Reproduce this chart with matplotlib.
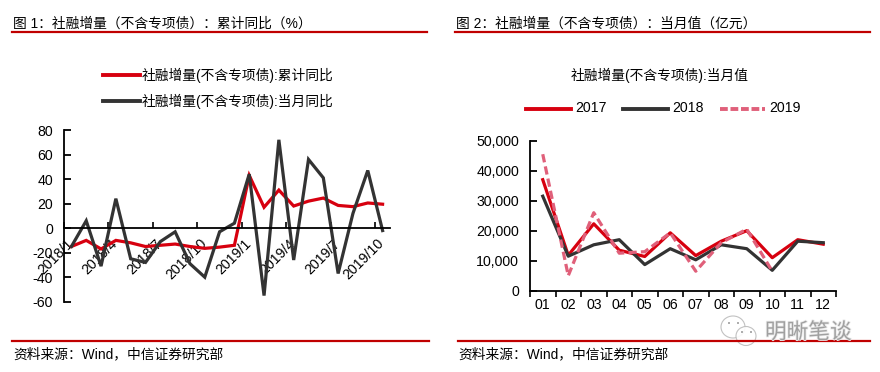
import numpy as np
import matplotlib
matplotlib.use('Agg')
import matplotlib.pyplot as plt
import matplotlib.patheffects as pe
from matplotlib.lines import Line2D
from matplotlib.patches import Ellipse
from matplotlib.transforms import ScaledTranslation

plt.rcParams['font.family'] = ['Liberation Sans', 'Noto Sans CJK SC']
plt.rcParams['axes.unicode_minus'] = False

RED = '#D7000F'
DARK = '#333333'
PINK = '#E0607A'
RULE = '#C00000'

W, H = 880, 372

months = ['2018/1', '2018/2', '2018/3', '2018/4', '2018/5', '2018/6', '2018/7', '2018/8',
          '2018/9', '2018/10', '2018/11', '2018/12', '2019/1', '2019/2', '2019/3', '2019/4',
          '2019/5', '2019/6', '2019/7', '2019/8', '2019/9', '2019/10']
cum_yoy = [-15, -10, -17, -10, -12, -15, -14, -13, -15, -16.5, -15.5, -14,
           43, 17, 31, 18, 22, 24.5, 18.5, 17.5, 20.5, 19.5]
month_yoy = [-15, 6, -31, 24, -25, -28, -11, -3, -29, -40, -3, 4,
             44, -55, 72, -26, 56, 41, -37, 12, 47, -2]

cal = ['01', '02', '03', '04', '05', '06', '07', '08', '09', '10', '11', '12']
y2017 = [37000, 11800, 22300, 13500, 11400, 19300, 11700, 16500, 20000, 11000, 17000, 15500]
y2018 = [31500, 11500, 15300, 17000, 8700, 14000, 10300, 15300, 14000, 6800, 16500, 16000]
y2019 = [45500, 5000, 26000, 12500, 13000, 19300, 6500, 16000, 20500, 6500]


def px_axes(fig, x0, x1, ytop, ybot):
    return fig.add_axes([x0 / W, 1 - ybot / H, (x1 - x0) / W, (ybot - ytop) / H])


def hline(fig, x0, x1, y, color=RULE, lw=1.6, **kw):
    fig.add_artist(Line2D([x0 / W, x1 / W], [1 - y / H, 1 - y / H], color=color, lw=lw, **kw))


def ftext(fig, x, y, s, **kw):
    kw.setdefault('va', 'center')
    kw.setdefault('color', 'black')
    return fig.text(x / W, 1 - y / H, s, **kw)


def style(ax):
    for side in ['top', 'right']:
        ax.spines[side].set_visible(False)
    for side in ['left', 'bottom']:
        ax.spines[side].set_linewidth(1.3)
    ax.patch.set_alpha(0)


def bubble(fig, x, y, w, h):
    fig.add_artist(Ellipse((x / W, 1 - y / H), w / W, h / H, fc='white', ec='#BBBBBB', lw=0.8,
                           alpha=0.9, transform=fig.transFigure))


fig = plt.figure(figsize=(W / 100, H / 100), dpi=100, facecolor='white')

# 图 1
ax1 = px_axes(fig, 64, 390, 130, 301.7)
style(ax1)
x1 = np.arange(len(months))
ax1.plot(x1, cum_yoy, color=RED, lw=2.3, solid_joinstyle='miter')
ax1.plot(x1, month_yoy, color=DARK, lw=2.3, solid_joinstyle='miter')
ax1.set_xlim(-0.5, len(months) - 0.5)
ax1.set_ylim(-60, 80)
ax1.set_yticks(np.arange(-60, 81, 20))
ax1.spines['bottom'].set_position(('data', 0))
ax1.set_xticks(x1[::3])
ax1.set_xticklabels(months[::3], rotation=45, ha='right', rotation_mode='anchor')
ax1.set_xticks(np.arange(-0.5, len(months), 3), minor=True)
ax1.tick_params(axis='x', which='major', length=0, labelsize=10.2, pad=6)
ax1.tick_params(axis='x', which='minor', direction='in', length=4, width=1.2)
ax1.tick_params(axis='y', direction='in', length=5, width=1.3, labelsize=10.2, pad=8)
for lab in ax1.get_xticklabels():
    lab.set_transform(lab.get_transform() + ScaledTranslation(-4 / 72, 0, fig.dpi_scale_trans))

# 图 2
ax2 = px_axes(fig, 530, 836, 140.7, 290.7)
style(ax2)
x2 = np.arange(len(cal))
ax2.plot(x2, y2017, color=RED, lw=2.3)
ax2.plot(x2, y2018, color=DARK, lw=2.3)
ax2.plot(x2[:len(y2019)], y2019, color=PINK, lw=2.3, ls=(0, (2.6, 1.3)))
ax2.set_xlim(-0.5, len(cal) - 0.5)
ax2.set_ylim(0, 50000)
ax2.set_yticks(np.arange(0, 50001, 10000))
ax2.set_yticklabels([f'{v:,}' for v in np.arange(0, 50001, 10000)])
ax2.set_xticks(x2)
ax2.set_xticklabels(cal)
ax2.set_xticks(np.arange(-0.5, len(cal)), minor=True)
ax2.tick_params(axis='x', which='major', length=0, labelsize=10.2, pad=5)
ax2.tick_params(axis='x', which='minor', direction='out', length=4, width=1.2)
ax2.tick_params(axis='y', direction='in', length=5, width=1.3, labelsize=10.2, pad=8)

# 标题和来源
ftext(fig, 13, 23.5, '图 1：社融增量（不含专项债）：累计同比（%）', fontsize=9.9)
ftext(fig, 456, 23.5, '图 2：社融增量（不含专项债）：当月值（亿元）', fontsize=9.9)
hline(fig, 12, 427, 32)
hline(fig, 455, 870, 32)
hline(fig, 12, 429, 341)
hline(fig, 458, 870, 341)
ftext(fig, 13, 354, '资料来源：Wind，中信证券研究部', fontsize=9.9)
ftext(fig, 458, 354, '资料来源：Wind，中信证券研究部', fontsize=9.9)

# 图例
for y, c, s in [(75, RED, '社融增量(不含专项债):累计同比'), (101, DARK, '社融增量(不含专项债):当月同比')]:
    hline(fig, 103, 140, y, color=c, lw=2.8)
    ftext(fig, 142, y, s, fontsize=9.9)
ftext(fig, 660, 75, '社融增量(不含专项债):当月值', fontsize=9.9, ha='center')
for x0, c, s, ls in [(526, RED, '2017', '-'), (623, DARK, '2018', '-'), (720, PINK, '2019', (0, (2, 0.7)))]:
    hline(fig, x0, x0 + 45, 108.5, color=c, lw=2.8, ls=ls)
    ftext(fig, x0 + 49, 108.5, s, fontsize=10.2)

# 水印
ftext(fig, 765, 333, '明晰笔谈', fontsize=15.6, color='#A0A0A0',
      path_effects=[pe.withStroke(linewidth=1.2, foreground='#EAEAEA')])
bubble(fig, 733, 327, 24, 22)
bubble(fig, 746, 336, 20, 19)
for ex, ey in [(729, 323), (738, 323), (742, 332), (751, 332)]:
    fig.add_artist(Ellipse((ex / W, 1 - ey / H), 2 / W, 2 / H, fc='#999999', ec='none',
                           transform=fig.transFigure))

fig.savefig('out.png', dpi=100, facecolor='white')
